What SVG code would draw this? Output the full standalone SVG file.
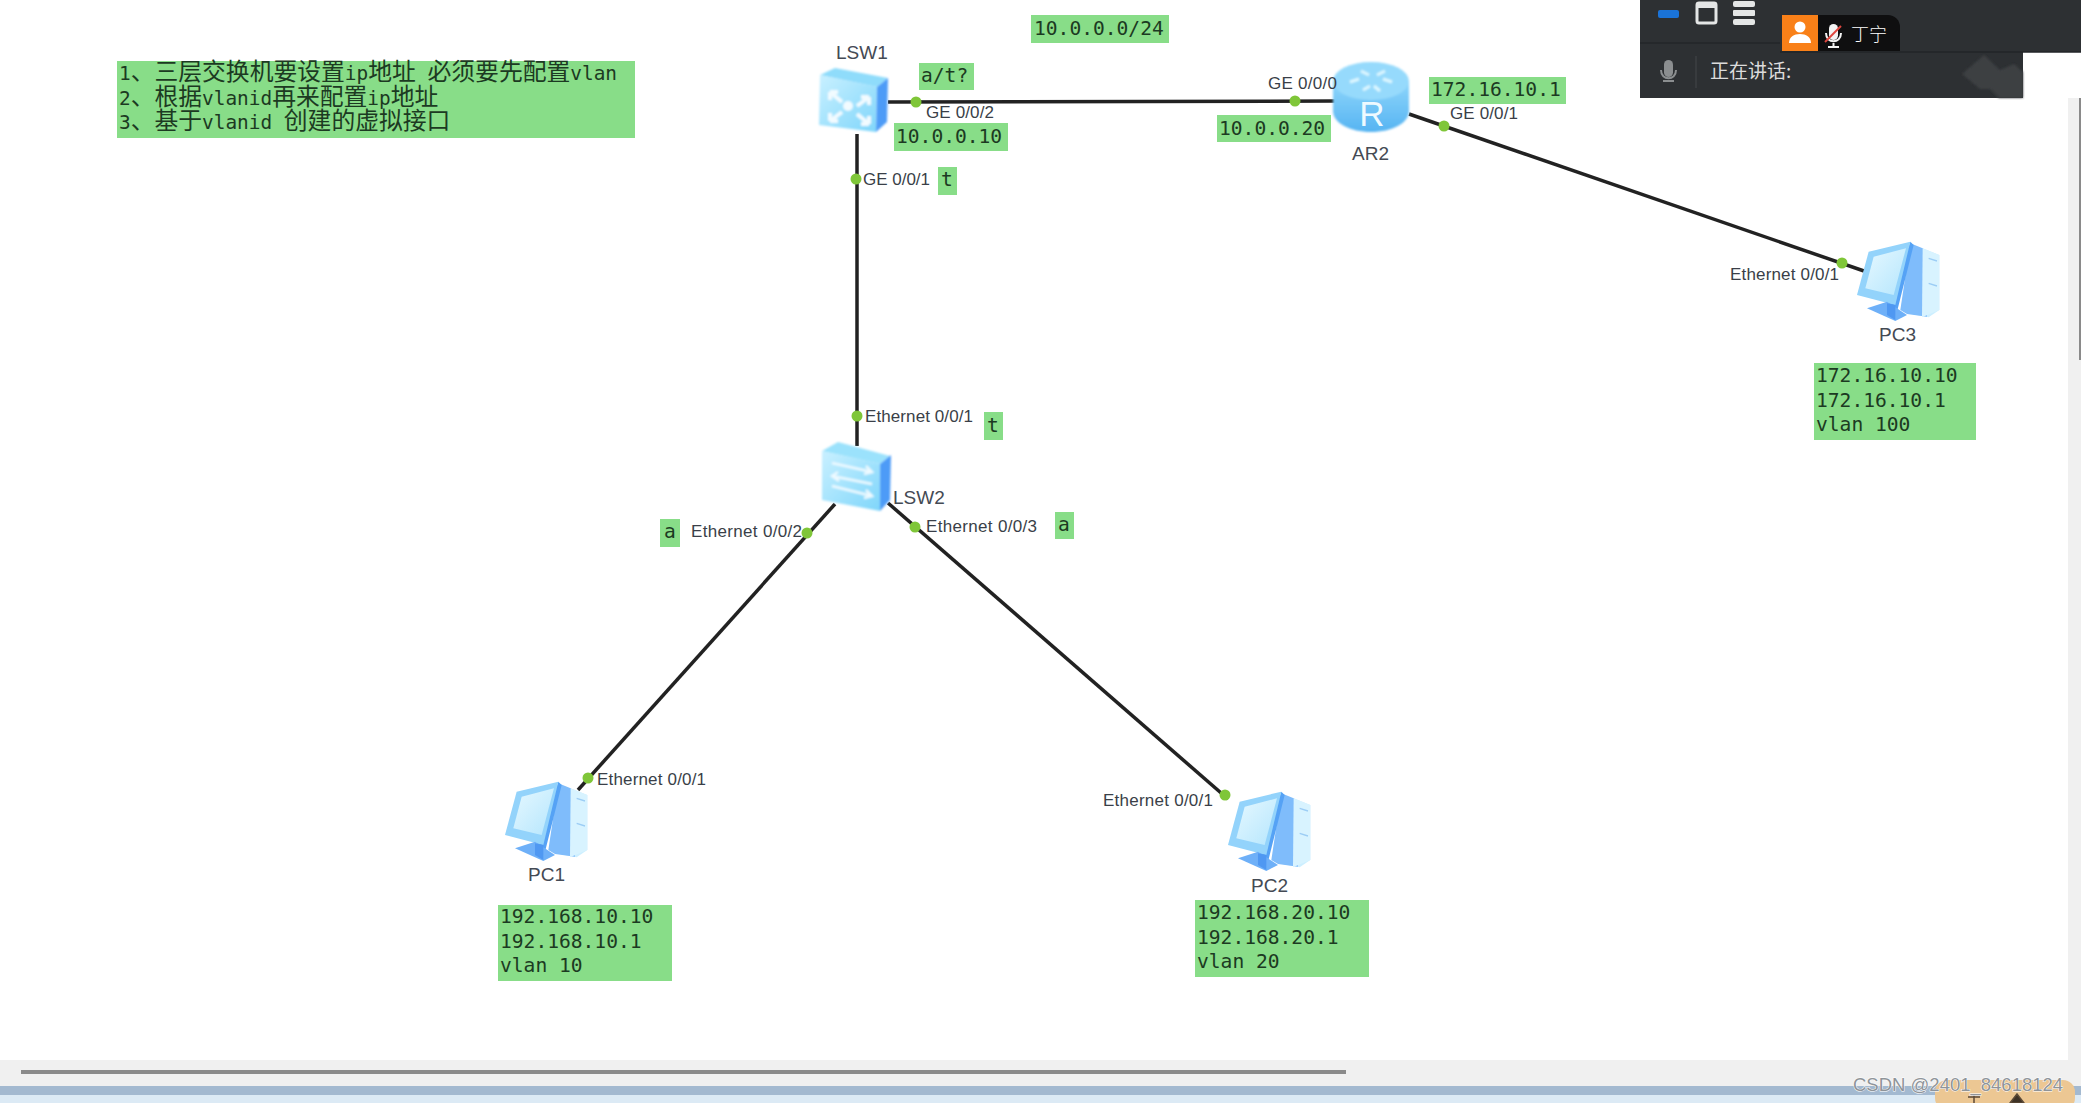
<svg xmlns="http://www.w3.org/2000/svg" width="2081" height="1103" viewBox="0 0 2081 1103">
<style>
.g{fill:#88dd88}
.m{font-family:"DejaVu Sans Mono","Noto Sans CJK SC",monospace;font-size:19.6px;fill:#1c3a22}
.c{font-family:"Noto Sans CJK SC","DejaVu Sans",sans-serif;font-size:23.8px;fill:#1c3a22}
.l{font-family:"Liberation Sans",Arial,sans-serif;font-size:17px;fill:#3a3f48}
.n{font-family:"Liberation Sans",Arial,sans-serif;font-size:19px;fill:#444a54}
.w{stroke:#222;stroke-width:3.500;fill:none;stroke-linecap:butt}
.d{fill:#7fc638}
.ar{stroke:#f2fbff;stroke-width:4;fill:none}
.ui{font-family:"Noto Sans CJK SC",sans-serif}
</style>
<defs>
<linearGradient id="fs" x1="0" y1="0" x2="1" y2="1"><stop offset="0" stop-color="#c9f0ff"/><stop offset="1" stop-color="#7fd6fb"/></linearGradient>
<linearGradient id="scr" x1="0" y1="0" x2="1" y2="1"><stop offset="0" stop-color="#e6f8ff"/><stop offset="1" stop-color="#b5e6fd"/></linearGradient>
<linearGradient id="rt" x1="0" y1="0" x2="0" y2="1"><stop offset="0" stop-color="#8fd6fb"/><stop offset="1" stop-color="#56b4f2"/></linearGradient>
<filter id="b" x="-5%" y="-5%" width="110%" height="110%"><feGaussianBlur stdDeviation="0.8"/></filter>
<g id="pc" filter="url(#b)">
<polygon points="225,100 272,85 322,105 322,270 290,292 225,280" fill="#cdefff"/>
<polygon points="235,70 272,85 285,100 285,290 225,282 205,270" fill="#7fbcfb"/>
<polygon points="272,85 322,105 322,270 270,292" fill="#d8f3ff"/>
<path d="M290 115l25 8M290 190l25 8" stroke="#9ccdf5" stroke-width="4"/>
<polygon points="235,65 245,75 195,275 170,250" fill="#55a2f5"/>
<polygon points="110,95 235,65 190,255 75,225" fill="#93d3fb"/>
<polygon points="125,110 222,85 185,225 100,205" fill="url(#scr)"/>
<polygon points="105,265 165,245 225,285 190,303" fill="#6eb0f8"/>
<polygon points="165,250 190,255 190,300 165,285" fill="#4f98f2"/>
</g>
</defs>
<rect width="2081" height="1103" fill="#fff"/>

<g id="chrome">
<rect x="0" y="1060" width="2081" height="43" fill="#f0f0f0"/>
<rect x="2068" y="98" width="13" height="962" fill="#f0f0f0"/>
<rect x="2079" y="98" width="2" height="262" fill="#8a8a8a"/>
<rect x="21" y="1070" width="1325" height="4" fill="#8a8a8a"/>
<rect x="0" y="1086" width="2081" height="9" fill="#a3b9d0"/>
<rect x="0" y="1095" width="2081" height="8" fill="#dceaf5"/>
<rect x="1935" y="1080" width="140" height="30" rx="12" fill="#ecc793"/>
<path d="M1968 1097h12M1974 1095v8M2010 1103l7-9 7 9z" stroke="#5c4a36" stroke-width="1.500" fill="#3e3226"/>
</g>

<g id="connectors">
<line class="w" x1="888" y1="102" x2="1335" y2="101"/>
<line class="w" x1="857" y1="134" x2="857" y2="446"/>
<line class="w" x1="835" y1="504" x2="578" y2="790"/>
<line class="w" x1="888" y1="503" x2="1228" y2="799"/>
<line class="w" x1="1409" y1="114" x2="1864" y2="271"/>
<circle class="d" cx="916" cy="102" r="5.500"/>
<circle class="d" cx="856" cy="179" r="5.500"/>
<circle class="d" cx="857" cy="416" r="5.500"/>
<circle class="d" cx="807" cy="533" r="5.500"/>
<circle class="d" cx="915" cy="527" r="5.500"/>
<circle class="d" cx="588" cy="778" r="5.500"/>
<circle class="d" cx="1225" cy="795" r="5.500"/>
<circle class="d" cx="1295" cy="101" r="5.500"/>
<circle class="d" cx="1444" cy="126" r="5.500"/>
<circle class="d" cx="1842" cy="263" r="5.500"/>
</g>

<g id="note">
<rect class="g" x="117" y="61" width="518" height="77"/>
<text class="m" x="119" y="80" style="font-size:19.4px">1<tspan class="c">、三层交换机要设置</tspan>ip<tspan class="c">地址</tspan> <tspan class="c">必须要先配置</tspan>vlan</text>
<text class="m" x="119" y="105" style="font-size:19.4px">2<tspan class="c">、根据</tspan>vlanid<tspan class="c">再来配置</tspan>ip<tspan class="c">地址</tspan></text>
<text class="m" x="119" y="129" style="font-size:19.4px">3<tspan class="c">、基于</tspan>vlanid <tspan class="c">创建的虚拟接口</tspan></text>
</g>

<g id="subnet"><rect class="g" x="1031" y="15" width="138" height="28"/><text class="m" x="1034" y="35">10.0.0.0/24</text></g>

<g id="LSW1">
<g filter="url(#b)">
<polygon points="820,75 835,68 888,78 877,87" fill="#8fdcfb"/>
<polygon points="820,75 877,87 876,132 819,125" fill="url(#fs)"/>
<polygon points="877,87 888,78 887,122 876,132" fill="#4d9bf7"/>
<g class="ar">
<path d="M830 92l12 10M830 92v8M830 92h8"/>
<path d="M869 97l-12 9M869 97h-8M869 97v8"/>
<path d="M830 121l12-9M830 121h8M830 121v-8"/>
<path d="M869 124l-12-10M869 124v-8M869 124h-8"/>
</g>
<circle cx="848" cy="106" r="5" fill="#f2fbff"/>
</g>
<text class="n" x="836" y="59">LSW1</text>
<text class="l" x="926" y="118" textLength="68">GE 0/0/2</text>
<rect class="g" x="894" y="123" width="114" height="28"/><text class="m" x="896" y="143">10.0.0.10</text>
<rect class="g" x="919" y="63" width="55" height="27"/><text class="m" x="921" y="82">a/t?</text>
<text class="l" x="863" y="185" textLength="67">GE 0/0/1</text>
<rect class="g" x="938" y="167" width="19" height="28"/><text class="m" x="941" y="186">t</text>
</g>

<g id="AR2">
<g filter="url(#b)">
<path d="M1333 81v30c0 12 17 21 38 21s38-9 38-21V81z" fill="url(#rt)"/>
<ellipse cx="1371" cy="81" rx="38" ry="19" fill="#96dafc"/>
<path d="M1361 71l8 4M1385 71l-8 4M1350 82l9-3M1392 82l-9-3M1363 90l7-4M1380 91l-6-5" stroke="#dff8ff" stroke-width="3" fill="none"/>
</g>
<text x="1372" y="126" text-anchor="middle" font-family="Liberation Sans,sans-serif" font-size="35" fill="#eefaff">R</text>
<text class="n" x="1352" y="160">AR2</text>
<text class="l" x="1268" y="89" textLength="69">GE 0/0/0</text>
<rect class="g" x="1217" y="115" width="114" height="27"/><text class="m" x="1219" y="135">10.0.0.20</text>
<rect class="g" x="1429" y="77" width="137" height="27"/><text class="m" x="1431" y="96">172.16.10.1</text>
<text class="l" x="1450" y="119" textLength="68">GE 0/0/1</text>
</g>

<g id="LSW2">
<g filter="url(#b)">
<polygon points="822,451 838,442 890,456 880,464" fill="#9be2fc"/>
<polygon points="822,451 880,464 880,511 822,500" fill="url(#fs)"/>
<polygon points="880,464 891,455 890,500 880,511" fill="#4d9bf7"/>
<g stroke="#eefaff" stroke-width="2.500" fill="none">
<path d="M832 463l40 9M866 466l6 6-8 2"/>
<path d="M872 484l-40-8M838 472l-6 4 7 5"/>
<path d="M832 486l40 10M866 490l6 6-8 2"/>
</g>
</g>
<text class="n" x="893" y="504">LSW2</text>
<text class="l" x="865" y="422" textLength="108">Ethernet 0/0/1</text>
<rect class="g" x="984" y="412" width="19" height="28"/><text class="m" x="987" y="432">t</text>
<text class="l" x="691" y="537" textLength="111">Ethernet 0/0/2</text>
<rect class="g" x="660" y="519" width="20" height="28"/><text class="m" x="664" y="538">a</text>
<text class="l" x="926" y="532" textLength="111">Ethernet 0/0/3</text>
<rect class="g" x="1055" y="512" width="19" height="27"/><text class="m" x="1058" y="531">a</text>
</g>

<g id="PC1">
<use href="#pc" transform="translate(480 760) scale(.3333)"/>
<text class="n" x="528" y="881">PC1</text>
<text class="l" x="597" y="785" textLength="109">Ethernet 0/0/1</text>
<rect class="g" x="498" y="905" width="174" height="76"/>
<text class="m" x="500" y="923">192.168.10.10</text>
<text class="m" x="500" y="948">192.168.10.1</text>
<text class="m" x="500" y="972">vlan 10</text>
</g>

<g id="PC2">
<use href="#pc" transform="translate(1203 770) scale(.3333)"/>
<text class="n" x="1251" y="892">PC2</text>
<text class="l" x="1103" y="806" textLength="110">Ethernet 0/0/1</text>
<rect class="g" x="1195" y="900" width="174" height="77"/>
<text class="m" x="1197" y="919">192.168.20.10</text>
<text class="m" x="1197" y="944">192.168.20.1</text>
<text class="m" x="1197" y="968">vlan 20</text>
</g>

<g id="PC3">
<use href="#pc" transform="translate(1832 220) scale(.3333)"/>
<text class="n" x="1879" y="341">PC3</text>
<text class="l" x="1730" y="280" textLength="109">Ethernet 0/0/1</text>
<rect class="g" x="1814" y="363" width="162" height="77"/>
<text class="m" x="1816" y="382">172.16.10.10</text>
<text class="m" x="1816" y="407">172.16.10.1</text>
<text class="m" x="1816" y="431">vlan 100</text>
</g>

<g id="meeting-panel">
<rect x="1640" y="0" width="383" height="98" fill="#2d3033"/>
<rect x="1780" y="0" width="301" height="52" fill="#2d3033"/>
<line x1="1640" y1="43" x2="1780" y2="43" stroke="#23262a" stroke-width="1.500"/>
<line x1="1780" y1="52" x2="2081" y2="52" stroke="#222528" stroke-width="1.500"/>
<rect x="1658" y="10" width="21" height="8" rx="2" fill="#1a73d8"/>
<rect x="1697" y="3" width="19" height="20" rx="2" fill="none" stroke="#e4e6e6" stroke-width="3"/>
<rect x="1696" y="2" width="21" height="6" rx="2" fill="#e4e6e6"/>
<rect x="1733" y="1" width="22" height="6" rx="2" fill="#e4e6e6"/>
<rect x="1733" y="10" width="22" height="6" rx="1" fill="#e4e6e6"/>
<rect x="1733" y="19" width="22" height="6" rx="2" fill="#e4e6e6"/>
<path d="M1818 15h70a12 12 0 0 1 12 12v24h-82z" fill="#0f0f10"/>
<rect x="1782" y="15" width="36" height="36" fill="#f98018"/>
<circle cx="1800" cy="27" r="5.500" fill="#fff"/>
<path d="M1789 43c0-6 5-9 11-9s11 3 11 9z" fill="#fff"/>
<rect x="1829" y="24" width="9" height="16" rx="4.500" fill="#f4f4f4"/>
<path d="M1826 33c0 11 15 11 15 0M1833.500 43v4M1828 47h11" stroke="#f4f4f4" stroke-width="2" fill="none"/>
<line x1="1825" y1="42" x2="1841" y2="26" stroke="#e0473f" stroke-width="2"/>
<text class="ui" x="1851" y="41" font-size="18" font-weight="300" fill="#fff">丁宁</text>
<rect x="1664" y="60" width="9" height="17" rx="4.500" fill="#8b8e90"/>
<path d="M1661 70c0 11 15 11 15 0M1668.500 80v1M1663 81h11" stroke="#8b8e90" stroke-width="2" fill="none"/>
<line x1="1696" y1="56" x2="1696" y2="88" stroke="#44474a" stroke-width="1"/>
<text class="ui" x="1710" y="78" font-size="19" fill="#dcdcdc">正在讲话:</text>
<path d="M1962 74l22-19 16 15 14-6 9 8v26h-24l-9-9-10 0z" fill="#3d4043" filter="url(#b)"/>
</g>

<text id="watermark" x="1853" y="1091" font-family="Liberation Sans,sans-serif" font-size="18.500" fill="#8f9499" stroke="#fff" stroke-width="1" paint-order="stroke">CSDN @2401_84618124</text>
</svg>
